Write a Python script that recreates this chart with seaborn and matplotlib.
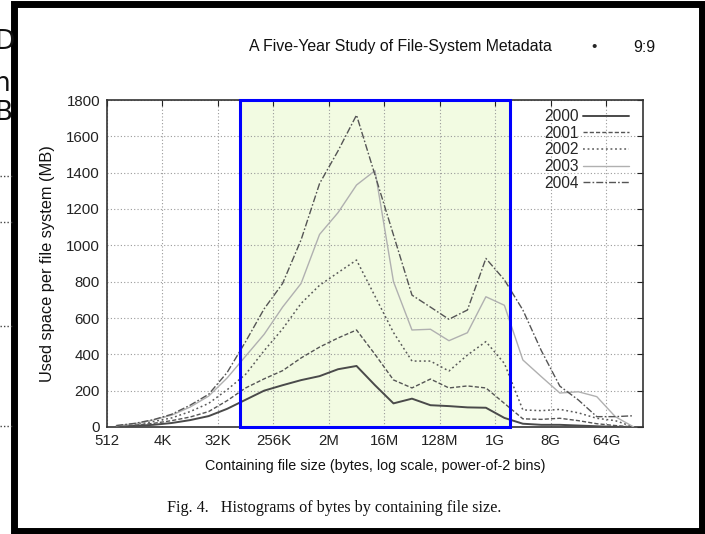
import numpy as np
import pandas as pd
import seaborn as sns
import matplotlib.pyplot as plt
from matplotlib.patches import Rectangle
from matplotlib.lines import Line2D

# bin centres: 2^9.5 ... 2^37.5 (power-of-2 bins)
exponents = [k + 0.5 for k in range(9, 38)]

used_2000 = [2, 6, 12, 22, 38, 60, 100, 150, 200, 230, 258, 280, 318, 336,
             230, 130, 156, 120, 115, 108, 106, 50, 18, 12, 12, 8, 4, 1, 0]
used_2001 = [4, 10, 20, 35, 55, 85, 145, 215, 265, 310, 380, 440, 490, 534,
             400, 259, 215, 264, 215, 226, 215, 130, 45, 42, 48, 35, 18, 8, 0]
used_2002 = [6, 14, 30, 50, 85, 130, 205, 290, 420, 540, 680, 780, 850, 919,
             720, 520, 363, 363, 308, 396, 470, 350, 94, 90, 97, 78, 48, 35, 0]
used_2003 = [7, 18, 38, 65, 110, 170, 270, 390, 510, 660, 790, 1060, 1180, 1332,
             1411, 800, 534, 538, 475, 519, 717, 670, 369, 277, 187, 194, 167, 57, 0]
used_2004 = [8, 20, 40, 70, 120, 180, 300, 470, 650, 790, 1030, 1340, 1520, 1717,
             1387, 1057, 726, 660, 593, 644, 928, 810, 644, 420, 225, 149, 57, 57, 62]

years = ["2000", "2001", "2002", "2003", "2004"]
tick_exp = [9, 12, 15, 18, 21, 24, 27, 30, 33, 36]
tick_labels = ["512", "4K", "32K", "256K", "2M", "16M", "128M", "1G", "8G", "64G"]

# highlighted range (blue box), in log2 bytes
box_lo, box_hi = 16.2, 30.8

series = [used_2000, used_2001, used_2002, used_2003, used_2004]
df = pd.concat([
    pd.DataFrame({"size": [2.0 ** e for e in exponents], "mb": vals, "year": yr})
    for yr, vals in zip(years, series)
])

sns.set_style("white")
plt.rcParams["font.family"] = ["Liberation Sans", "DejaVu Sans"]

fig = plt.figure(figsize=(7.05, 5.34), dpi=100)
ax = fig.add_axes([107 / 705, 1 - 427 / 534, 536 / 705, 327 / 534])

palette = {"2000": "#4a4a4a", "2001": "#555555", "2002": "#5a5a5a",
           "2003": "#b0b0b0", "2004": "#555555"}
dashes = {"2000": "", "2001": (3, 1.5), "2002": (1.2, 1.8),
          "2003": "", "2004": (5, 1.5, 1.2, 1.5)}
widths = {"2000": 1.4, "2001": 1.0, "2002": 1.1, "2003": 1.0, "2004": 1.0}

sns.lineplot(data=df, x="size", y="mb", hue="year", style="year",
             palette=palette, dashes=dashes, ax=ax, legend=False)
for line, yr in zip(ax.get_lines(), years):
    line.set_linewidth(widths[yr])
    line.set_zorder(3)

ax.set_xscale("log", base=2)
ax.set_xlim(2 ** 9, 2 ** 38)
ax.set_ylim(0, 1800)
ax.set_xticks([2.0 ** e for e in tick_exp])
ax.set_xticklabels(tick_labels)
ax.set_yticks(range(0, 1801, 200))
ax.minorticks_off()
ax.tick_params(direction="in", length=4, width=0.8, top=True, right=True,
               labelsize=10.8, pad=5, colors="#222222")
ax.grid(True, linestyle=(0, (1, 2)), color="#9a9a9a", linewidth=0.8)
ax.set_axisbelow(True)
for sp in ax.spines.values():
    sp.set_color("#333333")
    sp.set_linewidth(1.2)

ax.set_xlabel("Containing file size (bytes, log scale, power-of-2 bins)",
              fontsize=10.3, labelpad=8, color="#111111")
ax.set_ylabel("Used space per file system (MB)", fontsize=11.8, labelpad=8,
              color="#111111")

# highlighted region
ax.axvspan(2 ** box_lo, 2 ** box_hi, facecolor="#f2fbe2", edgecolor="none", zorder=0.2)
ax.add_patch(Rectangle((2 ** box_lo, 0), 2 ** box_hi - 2 ** box_lo, 1800,
                       fill=False, edgecolor="#0000ff", linewidth=2.2,
                       zorder=5, clip_on=False))

handles = [Line2D([], [], color=palette[yr], linewidth=widths[yr],
                  dashes=dashes[yr] if dashes[yr] else (None, None))
           for yr in years]
for h, yr in zip(handles, years):
    if dashes[yr] == "":
        h.set_linestyle("-")
leg = ax.legend(handles, years, loc="upper right", frameon=False,
                markerfirst=False, fontsize=11.2, handlelength=2.95,
                labelspacing=0.1, handletextpad=0.3,
                borderaxespad=0.2, bbox_to_anchor=(0.992, 1.0))

# page header and caption of the paper figure
fig.text(249 / 705, 1 - 47 / 534, "A Five-Year Study of File-System Metadata",
         fontsize=11.4, va="center", ha="left", color="#111111")
fig.text(594 / 705, 1 - 47 / 534, "\u2022", fontsize=11, va="center", ha="center")
fig.text(655 / 705, 1 - 47 / 534, "9:9", fontsize=11.4, va="center", ha="right",
         color="#111111")
fig.text(167 / 705, 1 - 508 / 534,
         "Fig. 4.   Histograms of bytes by containing file size.",
         fontsize=11.6, va="center", ha="left", family="Liberation Serif",
         color="#111111")

# slide frame around the pasted figure
fig.patches.append(Rectangle((13.5 / 705, 3.5 / 534), 688 / 705, 527 / 534,
                             transform=fig.transFigure, fill=False,
                             edgecolor="black", linewidth=5.0))

# clipped slide text left of the frame
for ch, ypx in [("D", 42), ("n", 84), ("B", 113)]:
    fig.text(-6 / 705, 1 - ypx / 534, ch, fontsize=19, va="center", ha="left",
             color="#111111", family="DejaVu Sans")
for ypx in [176, 222, 326, 426]:
    fig.add_artist(Line2D([0, 12 / 705], [1 - ypx / 534] * 2,
                          transform=fig.transFigure, color="#444444",
                          linestyle=(0, (1, 1.5)), linewidth=1.0))

fig.savefig("out.png", dpi=100)
